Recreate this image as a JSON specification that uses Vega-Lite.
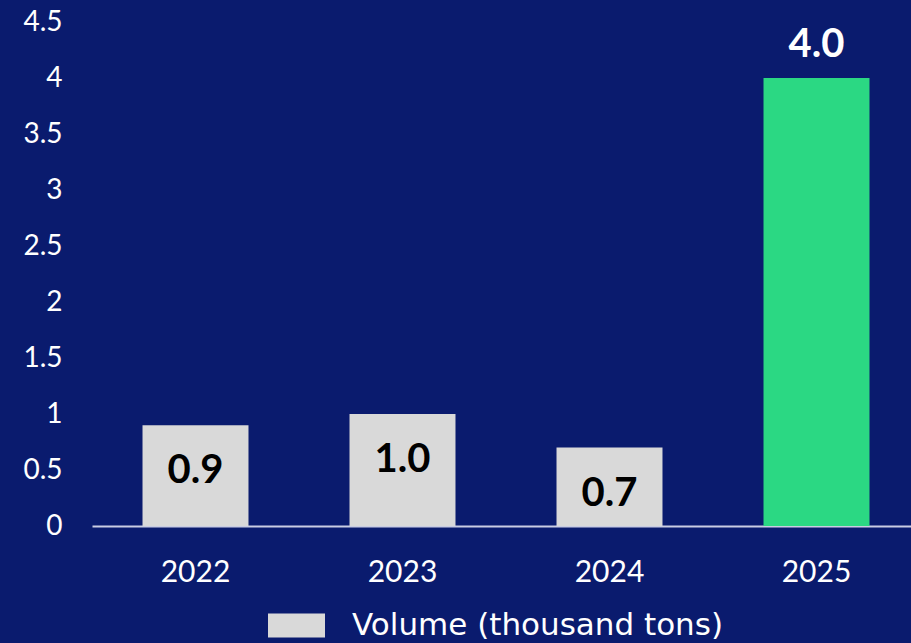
{
  "$schema": "https://vega.github.io/schema/vega-lite/v6.json",
  "width": 828,
  "height": 504,
  "autosize": {"type": "none"},
  "padding": {"left": 92, "top": 22, "right": 0, "bottom": 117},
  "background": "#0a1b6e",
  "config": {
    "view": {"stroke": null},
    "font": "Lato"
  },
  "data": {
    "values": [
      {"year": "2022", "value": 0.9, "label": "0.9", "series": "Volume (thousand tons)"},
      {"year": "2023", "value": 1.0, "label": "1.0", "series": "Volume (thousand tons)"},
      {"year": "2024", "value": 0.7, "label": "0.7", "series": "Volume (thousand tons)"},
      {"year": "2025", "value": 4.0, "label": "4.0", "series": "Volume (thousand tons)"}
    ]
  },
  "encoding": {
    "x": {
      "field": "year",
      "type": "nominal",
      "scale": {"paddingInner": 0.488, "paddingOuter": 0.244},
      "axis": {
        "title": null,
        "labelAngle": 0,
        "labelColor": "#ffffff",
        "labelFontSize": 30,
        "labelFont": "Lato",
        "ticks": false,
        "labelPadding": 31,
        "domainColor": "#c9cde3",
        "domainWidth": 2
      }
    },
    "y": {
      "field": "value",
      "type": "quantitative",
      "scale": {"domain": [0, 4.5], "nice": false},
      "axis": {
        "title": null,
        "values": [0, 0.5, 1, 1.5, 2, 2.5, 3, 3.5, 4, 4.5],
        "format": "~g",
        "labelColor": "#ffffff",
        "labelFontSize": 28,
        "labelFont": "Lato",
        "ticks": false,
        "domain": false,
        "grid": false,
        "labelPadding": 30
      }
    }
  },
  "layer": [
    {
      "mark": {"type": "bar"},
      "encoding": {
        "color": {
          "condition": {"test": "datum.year === '2025'", "value": "#2bd883"},
          "field": "series",
          "type": "nominal",
          "scale": {"domain": ["Volume (thousand tons)"], "range": ["#d9d9d9"]},
          "legend": {
            "title": null,
            "orient": "none",
            "legendX": 176,
            "legendY": 575,
            "symbolType": "M-1,-0.42L1,-0.42L1,0.42L-1,0.42Z",
            "symbolSize": 3249,
            "symbolStrokeWidth": 0,
            "labelColor": "#ffffff",
            "labelFontSize": 31,
            "labelFont": "DejaVu Sans",
            "labelOffset": 27,
            "labelLimit": 600
          }
        }
      }
    },
    {
      "transform": [{"filter": "datum.year !== '2025'"}],
      "mark": {"type": "text", "baseline": "middle", "dy": 46, "fontSize": 40, "fontWeight": "bold", "color": "#000000", "font": "Lato"},
      "encoding": {"text": {"field": "label"}}
    },
    {
      "transform": [{"filter": "datum.year === '2025'"}],
      "mark": {"type": "text", "baseline": "middle", "dy": -33, "fontSize": 40, "fontWeight": "bold", "color": "#ffffff", "font": "Lato"},
      "encoding": {"text": {"field": "label"}}
    }
  ]
}
